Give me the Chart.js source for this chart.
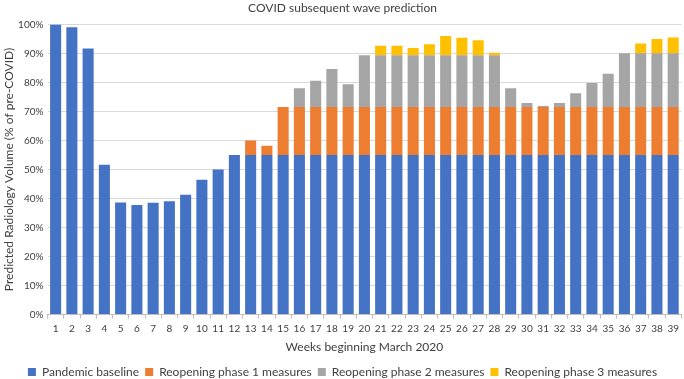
<!DOCTYPE html>
<html lang="en">
<head>
    <meta charset="UTF-8">
    <title>COVID subsequent wave prediction</title>
    <style>
        html, body { margin: 0; padding: 0; background: #fff; }
        #wrap { width: 684px; height: 379px; }
    </style>
    <script src="https://cdn.jsdelivr.net/npm/chart.js"></script>
</head>
<body>
    <div id="wrap"><canvas id="waveChart" width="684" height="379"></canvas></div>

    <script>
        // Weeks beginning March 2020
        var weeks = ['1','2','3','4','5','6','7','8','9','10','11','12','13','14','15','16','17','18','19','20',
                     '21','22','23','24','25','26','27','28','29','30','31','32','33','34','35','36','37','38','39'];

        // stacked increments, % of pre-COVID volume
        var baseline = [100, 99, 91.7, 51.6, 38.6, 37.8, 38.5, 39.1, 41.3, 46.5, 50, 55,
                        55, 55, 55, 55, 55, 55, 55, 55, 55, 55, 55, 55, 55, 55, 55, 55, 55, 55,
                        55, 55, 55, 55, 55, 55, 55, 55, 55];
        var phase1 = [0, 0, 0, 0, 0, 0, 0, 0, 0, 0, 0, 0,
                      5, 3.2, 16.5, 16.5, 16.5, 16.5, 16.5, 16.5, 16.5, 16.5, 16.5, 16.5, 16.5, 16.5,
                      16.5, 16.5, 16.5, 16.5, 16.5, 16.5, 16.5, 16.5, 16.5, 16.5, 16.5, 16.5, 16.5];
        var phase2 = [0, 0, 0, 0, 0, 0, 0, 0, 0, 0, 0, 0, 0, 0, 0,
                      6.5, 9.1, 13.1, 7.9, 17.9, 17.9, 17.9, 17.9, 17.9, 17.9, 17.9, 17.9, 17.9,
                      6.5, 1.4, 0.4, 1.4, 4.8, 8.3, 11.5, 18.6, 18.6, 18.6, 18.6];
        var phase3 = [0, 0, 0, 0, 0, 0, 0, 0, 0, 0, 0, 0, 0, 0, 0, 0, 0, 0, 0, 0,
                      3.2, 3.2, 2.5, 3.8, 6.6, 6.0, 5.1, 0.8,
                      0, 0, 0, 0, 0, 0, 0, 0, 3.3, 4.9, 5.4];
        var yTicks = [0, 10, 20, 30, 40, 50, 60, 70, 80, 90, 100];

        var textColor = '#404040';
        var fontFamily = 'Lato, "Open Sans", sans-serif';

        function bars(label, values, color) {
            return {
                label: label,
                data: values,
                backgroundColor: color,
                borderWidth: 0,
                barPercentage: 0.68,
                categoryPercentage: 1.0
            };
        }

        var data = {
            labels: weeks,
            datasets: [
                bars('Pandemic baseline', baseline, '#4472C4'),
                bars('Reopening phase 1 measures', phase1, '#ED7D31'),
                bars('Reopening phase 2 measures', phase2, '#A5A5A5'),
                bars('Reopening phase 3 measures', phase3, '#FFC000')
            ]
        };

        var options = {
            responsive: false,
            animation: false,
            // negative bottom padding lets the legend sit close to the edge like the original
            layout: { padding: { left: 2, right: 1, top: 0, bottom: -9 } },
            plugins: {
                title: {
                    display: true,
                    text: 'COVID subsequent wave prediction',
                    color: textColor,
                    font: { family: fontFamily, size: 12, weight: 'normal' },
                    padding: { top: 1, bottom: 9 }
                },
                legend: {
                    position: 'bottom',
                    labels: {
                        color: textColor,
                        font: { family: fontFamily, size: 12 },
                        boxWidth: 8,
                        boxHeight: 8,
                        padding: 6
                    }
                },
                tooltip: { enabled: false }
            },
            scales: {
                x: {
                    stacked: true,
                    grid: {
                        drawOnChartArea: false,
                        color: '#bfbfbf',
                        tickLength: 4
                    },
                    border: { color: '#bfbfbf' },
                    ticks: {
                        color: textColor,
                        font: { family: fontFamily, size: 10, lineHeight: 1.0 },
                        maxRotation: 0,
                        autoSkip: false,
                        padding: 5
                    },
                    title: {
                        display: true,
                        text: 'Weeks beginning March 2020',
                        color: textColor,
                        font: { family: fontFamily, size: 12 },
                        padding: { top: 1, bottom: 6 }
                    }
                },
                y: {
                    stacked: true,
                    min: 0,
                    max: 100,
                    afterBuildTicks: function(axis) {
                        axis.ticks = yTicks.map(function(v) { return { value: v }; });
                    },
                    afterFit: function(axis) {
                        axis.width = 45.5;
                    },
                    grid: { color: '#d9d9d9', drawTicks: false },
                    border: { display: false },
                    ticks: {
                        color: textColor,
                        font: { family: fontFamily, size: 10 },
                        padding: 4,
                        callback: function(value) { return value + '%'; }
                    },
                    title: {
                        display: true,
                        text: 'Predicted Radiology Volume (% of pre-COVID)',
                        color: textColor,
                        font: { family: fontFamily, size: 12 },
                        padding: { top: 0, bottom: 2 }
                    }
                }
            }
        };

        var ctx = document.getElementById('waveChart').getContext('2d');
        new Chart(ctx, { type: 'bar', data: data, options: options });
    </script>
</body>
</html>
